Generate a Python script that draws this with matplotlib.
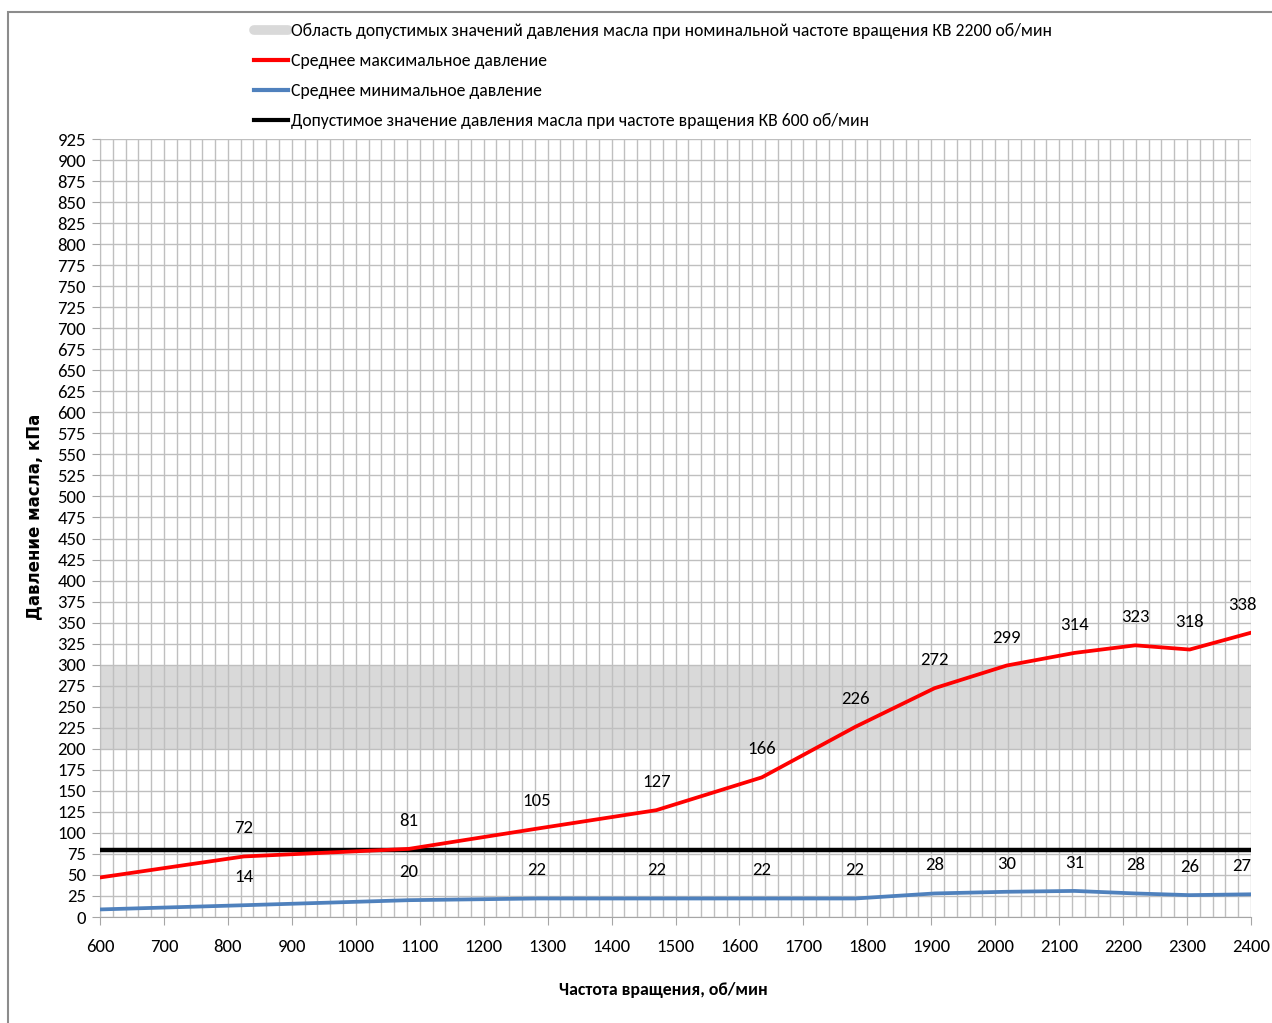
import matplotlib
matplotlib.use("Agg")
import matplotlib.pyplot as plt
from matplotlib.lines import Line2D
from matplotlib.patches import Rectangle
import numpy as np

plt.rcParams['font.family'] = ['Carlito', 'DejaVu Sans']

rpm = [600, 825, 1083, 1283, 1470, 1635, 1781, 1905, 2018, 2124, 2219, 2304, 2400]
p_max = [47, 72, 81, 105, 127, 166, 226, 272, 299, 314, 323, 318, 338]
p_min = [9, 14, 20, 22, 22, 22, 22, 28, 30, 31, 28, 26, 27]
labeled = [False] + [True] * 12
band_low, band_high = 200, 300
limit_600 = 80

legend_labels = [
    "Область допустимых значений давления масла при номинальной частоте вращения КВ 2200 об/мин",
    "Среднее максимальное давление",
    "Среднее минимальное давление",
    "Допустимое значение давления масла при частоте вращения КВ 600 об/мин",
]

W, H = 1272, 1023
fig = plt.figure(figsize=(W / 100, H / 100), dpi=100)
ax = fig.add_axes([100 / W, 1 - 917 / H, 1151 / W, 778 / H])

# figure border
fig.patches.append(Rectangle((8 / W, -0.1), 1.2, 1 - 12 / H + 0.1,
                             transform=fig.transFigure, fill=False,
                             edgecolor='#8c8c8c', linewidth=1.5, zorder=0))

ax.set_xlim(600, 2400)
ax.set_ylim(0, 925)

ax.axhspan(band_low, band_high, color='#d9d9d9', zorder=1, lw=0)

# grid
ax.set_xticks(np.arange(600, 2401, 100))
ax.set_xticks(np.arange(600, 2401, 20), minor=True)
ax.set_yticks(np.arange(0, 926, 25))
ax.grid(which='both', axis='x', color='#bfbfbf', linewidth=1, zorder=2)
ax.grid(which='major', axis='y', color='#bfbfbf', linewidth=1, zorder=2)
ax.set_axisbelow(False)

ax.plot([600, 2400], [limit_600, limit_600], color='black', lw=3.2, zorder=4)
ax.plot(rpm, p_max, color='#ff0000', lw=2.7, zorder=5)
ax.plot(rpm, p_min, color='#4f81bd', lw=2.7, zorder=5)

for i, (x, a, b) in enumerate(zip(rpm, p_max, p_min)):
    if not labeled[i]:
        continue
    dx = -9 if i == len(rpm) - 1 else 0
    for v in (a, b):
        ax.annotate(str(v), (x, v), xytext=(dx, 28), textcoords='offset pixels',
                    ha='center', va='center', fontsize=13.5, color='black', zorder=6)

for s in ['top', 'right']:
    ax.spines[s].set_visible(False)
for s in ['left', 'bottom']:
    ax.spines[s].set_color('#a6a6a6')
ax.tick_params(axis='both', which='major', length=6, color='#a6a6a6', labelsize=13.5,
               pad=4)
ax.tick_params(axis='x', which='minor', length=0)
ax.tick_params(axis='x', which='major', pad=10)

ax.set_xlabel("Частота вращения, об/мин", fontsize=12.8, fontweight='bold')
ax.xaxis.set_label_coords((663 - 100) / 1151, (917 - 982) / 778)
ax.set_ylabel("Давление масла, кПа", fontsize=12, fontweight='bold',
              family=['DejaVu Sans'])
ax.yaxis.set_label_coords((44 - 100) / 1151, (917 - 517) / 778)

handles = [
    Line2D([], [], color='#d9d9d9', lw=7, solid_capstyle='round'),
    Line2D([], [], color='#ff0000', lw=3),
    Line2D([], [], color='#4f81bd', lw=3),
    Line2D([], [], color='black', lw=3),
]
fig.legend(handles, legend_labels, loc='upper left',
           bbox_to_anchor=(247 / W, 1 - 16 / H), frameon=False, fontsize=12.7,
           handlelength=1.95, handletextpad=0.12, labelspacing=0.8,
           borderaxespad=0)

fig.savefig("out.png", dpi=100)
